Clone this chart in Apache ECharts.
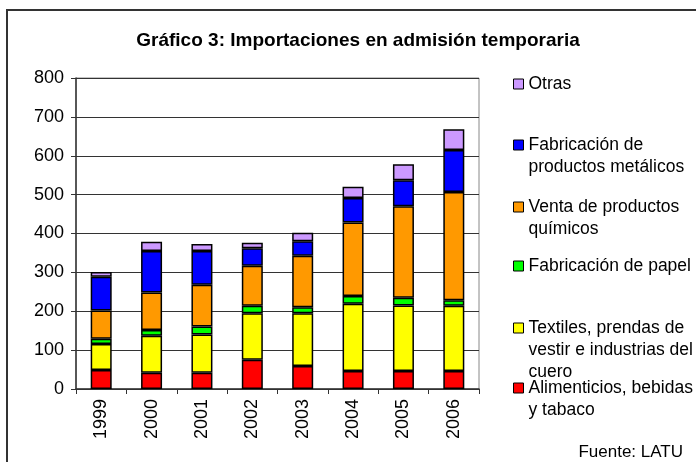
<!DOCTYPE html>
<html>
<head>
<meta charset="utf-8">
<script src="https://cdn.jsdelivr.net/npm/echarts@6/dist/echarts.min.js"></script>
<style>
  html, body { margin: 0; padding: 0; background: #fff; }
  #chart { width: 696px; height: 462px; }
</style>
</head>
<body>
<div id="chart"></div>
<script>
const years = ['1999', '2000', '2001', '2002', '2003', '2004', '2005', '2006'];
const yTicks = [0, 100, 200, 300, 400, 500, 600, 700, 800];

const alimenticios = [49, 42, 42, 75, 59, 46, 46, 46];
const textiles = [67, 95, 98, 120, 136, 173, 169, 168];
const papel = [13, 15, 21, 19, 15, 20, 20, 14];
const quimicos = [73, 96, 107, 103, 133, 189, 235, 279];
const metalicos = [87, 107, 87, 45, 37, 63, 67, 108];
const otras = [12, 24, 18, 14, 22, 29, 41, 53];

const chart = echarts.init(document.getElementById('chart'));
const font = 'Liberation Sans, Arial, sans-serif';

// stacking order bottom -> top
const seriesDefs = [
  { name: 'Alimenticios, bebidas y tabaco', data: alimenticios, color: '#ff0000' },
  { name: 'Textiles, prendas de vestir e industrias del cuero', data: textiles, color: '#ffff00' },
  { name: 'Fabricación de papel', data: papel, color: '#00ff00' },
  { name: 'Venta de productos químicos', data: quimicos, color: '#ff9900' },
  { name: 'Fabricación de productos metálicos', data: metalicos, color: '#0000ff' },
  { name: 'Otras', data: otras, color: '#cc99ff' }
];

// legend entries, placed one by one like the original
const legendItems = [
  { name: 'Otras', text: 'Otras', y: 84, lines: 1 },
  { name: 'Fabricación de productos metálicos', text: 'Fabricación de\nproductos metálicos', y: 145, lines: 2 },
  { name: 'Venta de productos químicos', text: 'Venta de productos\nquímicos', y: 207, lines: 2 },
  { name: 'Fabricación de papel', text: 'Fabricación de papel', y: 266, lines: 1 },
  { name: 'Textiles, prendas de vestir e industrias del cuero', text: 'Textiles, prendas de\nvestir e industrias del\ncuero', y: 328, lines: 3 },
  { name: 'Alimenticios, bebidas y tabaco', text: 'Alimenticios, bebidas\ny tabaco', y: 388, lines: 2 }
];
const lh = 22;

const option = {
  animation: false,
  backgroundColor: '#fff',
  title: [
    {
      text: 'Gráfico 3: Importaciones en admisión temporaria',
      left: 353,
      top: 26,
      textAlign: 'center',
      textStyle: { fontFamily: font, fontSize: 19, fontWeight: 'bold', color: '#000' }
    },
    {
      text: 'Fuente: LATU',
      right: 8,
      top: 439,
      textStyle: { fontFamily: font, fontSize: 17, fontWeight: 'normal', color: '#000' }
    }
  ],
  legend: legendItems.map(it => ({
    data: [it.name],
    left: 513,
    top: it.y - (it.lines * lh) + lh / 2,
    padding: 0,
    icon: 'rect',
    itemWidth: 10,
    itemHeight: 10,
    selectedMode: false,
    itemStyle: { borderColor: '#000', borderWidth: 1 },
    // empty leading lines keep the marker level with the first text line
    formatter: () => '\n'.repeat(it.lines - 1) + it.text,
    textStyle: {
      fontFamily: font,
      fontSize: 17.5,
      color: '#000',
      lineHeight: lh
    }
  })),
  grid: { left: 76, right: 217, top: 78, bottom: 73, show: true, borderColor: '#888', borderWidth: 1 },
  xAxis: {
    type: 'category',
    data: years,
    axisLine: { lineStyle: { color: '#333', width: 1.5 } },
    axisTick: { show: true, length: 5, lineStyle: { color: '#333' } },
    axisLabel: { rotate: 90, margin: 10, fontFamily: font, fontSize: 18, color: '#000' }
  },
  yAxis: {
    type: 'value',
    min: yTicks[0],
    max: yTicks[yTicks.length - 1],
    interval: yTicks[1] - yTicks[0],
    axisLine: { show: true, lineStyle: { color: '#333', width: 1.5 } },
    axisTick: { show: true, length: 5, lineStyle: { color: '#333' } },
    axisLabel: { margin: 12, fontFamily: font, fontSize: 18, color: '#000' },
    splitLine: { show: true, lineStyle: { color: '#333', width: 1 } }
  },
  series: seriesDefs.map(s => ({
    name: s.name,
    type: 'bar',
    stack: 'total',
    barWidth: 21,
    data: s.data,
    itemStyle: { color: s.color, borderColor: '#000', borderWidth: 1.5 }
  })),
  graphic: [
    {
      type: 'rect',
      silent: true,
      shape: { x: 7, y: 10, width: 720, height: 500 },
      style: { fill: null, stroke: '#333', lineWidth: 2 }
    }
  ]
};

chart.setOption(option);
</script>
</body>
</html>
